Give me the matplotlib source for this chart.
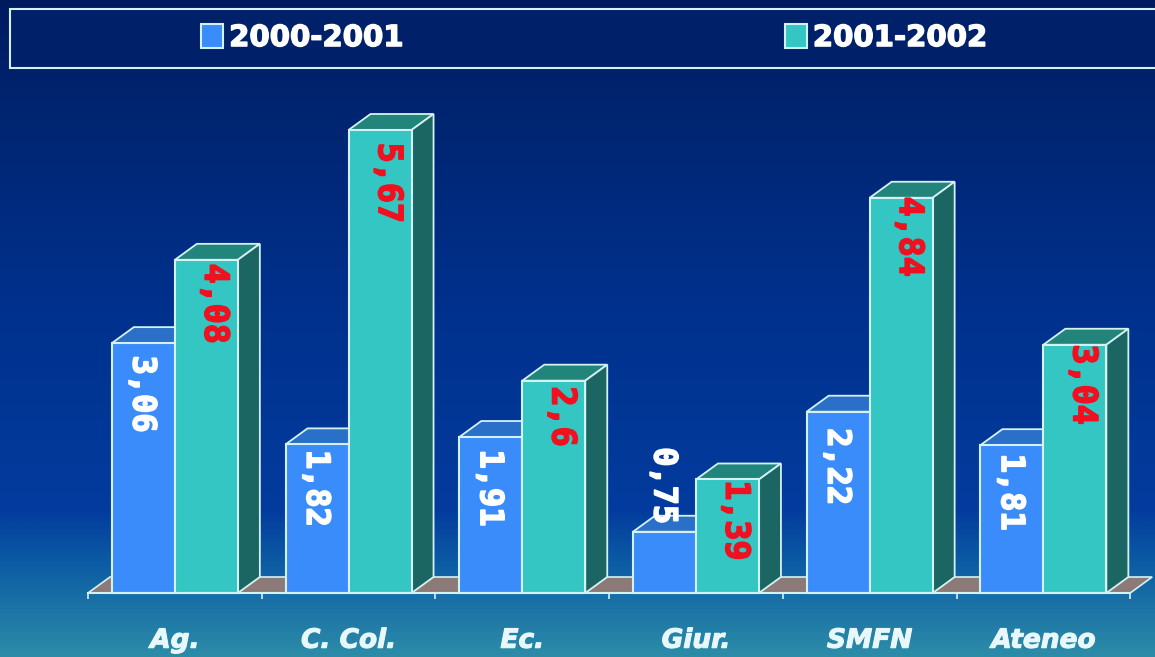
import numpy as np
import matplotlib
matplotlib.use("Agg")
from matplotlib import pyplot as plt
from matplotlib import patheffects as pe
from matplotlib.colors import LinearSegmentedColormap
from matplotlib.patches import Polygon, Rectangle

categories = ["Ag.", "C. Col.", "Ec.", "Giur.", "SMFN", "Ateneo"]
series_names = ["2000-2001", "2001-2002"]
values_a = [3.06, 1.82, 1.91, 0.75, 2.22, 1.81]
values_b = [4.08, 5.67, 2.6, 1.39, 4.84, 3.04]

W, H = 1155, 657
BASE_PX = 593       # y pixel of value 0
UNIT_Y = 81.66      # pixels per value unit
UNIT_X = 173.7      # pixels per category
LEFT_PX = 88        # x pixel of left end of axis
DX = 22 / UNIT_X    # 3d depth in data units
DY = 16 / UNIT_Y
BAR_W = 63 / UNIT_X

# distance from bar top to centre of value label, in pixels
label_off_a = [51, 44, 51, -46, 55, 47]
label_off_b = [44, 53, 36, 41, 39, 40]

EDGE = "#d4f2f2"
BLUE = "#3a8cfa"
BLUE_TOP = "#2a70c8"
BLUE_SIDE = "#1f55a0"
TEAL = "#33c6c2"
TEAL_TOP = "#22857c"
TEAL_SIDE = "#1b6663"
FLOOR = "#8c7a78"


def fmt(v):
    return str(v).replace(".", ",")


def fat(color, w=1.2):
    return [pe.withStroke(linewidth=w, foreground=color)]


def draw_box(ax, x0, x1, v, top, side, z):
    # top and side faces, front face comes from ax.bar
    ax.add_patch(Polygon([(x0, v), (x0 + DX, v + DY), (x1 + DX, v + DY), (x1, v)],
                         fc=top, ec=EDGE, lw=1.3, zorder=z))
    ax.add_patch(Polygon([(x1, 0), (x1 + DX, DY), (x1 + DX, v + DY), (x1, v)],
                         fc=side, ec=EDGE, lw=1.3, zorder=z))


fig = plt.figure(figsize=(W / 100, H / 100), dpi=100)

# background gradient
bg = fig.add_axes([0, 0, 1, 1], zorder=0)
cmap = LinearSegmentedColormap.from_list("bg", [
    (0.0, "#001a60"), (0.15, "#00246e"), (0.45, "#00308c"),
    (0.78, "#033c9e"), (0.86, "#0c5ca4"), (1.0, "#2c8ca8")])
bg.imshow(np.linspace(0, 1, 400).reshape(-1, 1), cmap=cmap, aspect="auto", extent=[0, 1, 0, 1])
bg.axis("off")

# chart axes cover the whole figure so value 0 sits on the floor line
ax = fig.add_axes([0, 0, 1, 1], zorder=1)
ax.patch.set_alpha(0)
ax.set_xlim(-LEFT_PX / UNIT_X - 0.5, (W - LEFT_PX) / UNIT_X - 0.5)
ax.set_ylim(-(H - BASE_PX) / UNIT_Y, BASE_PX / UNIT_Y)

x = np.arange(len(categories))

# floor
ax.add_patch(Polygon([(-0.5, 0), (-0.5 + DX, DY), (5.5 + DX, DY), (5.5, 0)],
                     fc=FLOOR, ec=EDGE, lw=1.2, zorder=1))

bars_a = ax.bar(x - BAR_W / 2, values_a, BAR_W, color=BLUE, edgecolor=EDGE, lw=1.5, zorder=3.5)
for xi, v in zip(x, values_a):
    draw_box(ax, xi - BAR_W, xi, v, BLUE_TOP, BLUE_SIDE, 3)
bars_b = ax.bar(x + BAR_W / 2, values_b, BAR_W, color=TEAL, edgecolor=EDGE, lw=1.5, zorder=5)
for xi, v in zip(x, values_b):
    draw_box(ax, xi, xi + BAR_W, v, TEAL_TOP, TEAL_SIDE, 4)

# value labels, rotated like in the original slide
for xi, v, off in zip(x, values_a, label_off_a):
    ax.annotate(fmt(v), (xi - BAR_W / 2, v), xytext=(-1, -off * 0.72), textcoords="offset points",
                rotation=270, color="white", fontsize=23, fontweight="bold",
                family="DejaVu Sans Mono", ha="center", va="center", zorder=8,
                path_effects=fat("white"))
for xi, v, off in zip(x, values_b, label_off_b):
    ax.annotate(fmt(v), (xi + BAR_W / 2, v), xytext=(6, -off * 0.72), textcoords="offset points",
                rotation=270, color="#f01020", fontsize=24, fontweight="bold",
                family="DejaVu Sans Mono", ha="center", va="center", zorder=8,
                path_effects=fat("#f01020"))

# axis: ticks between groups, names in the middle
for s in ["top", "left", "right"]:
    ax.spines[s].set_visible(False)
ax.spines["bottom"].set_position(("data", 0))
ax.spines["bottom"].set_bounds(-0.5, 5.5)
ax.spines["bottom"].set_color(EDGE)
ax.spines["bottom"].set_linewidth(1.5)
ax.spines["bottom"].set_zorder(6)
ax.set_yticks([])
ax.set_xticks(np.arange(-0.5, 6, 1))
ax.set_xticklabels([])
ax.tick_params(axis="x", which="major", length=4, width=1.2, color=EDGE, direction="out")
ax.set_xticks(x, minor=True)
ax.set_xticklabels(categories, minor=True, color="#e8f8fa", fontsize=19, fontweight="bold",
                   style="italic", path_effects=fat("#e8f8fa", 0.8))
ax.tick_params(axis="x", which="minor", length=0, pad=25)

# legend strip
ax.add_patch(Rectangle((10, H - 68), W + 10, 59, transform=None, fc="#00206a", ec=EDGE, lw=1.5, zorder=2))
leg = ax.legend([bars_a, bars_b], series_names, loc="center", bbox_to_anchor=(594 / W, 1 - 38 / H),
                ncols=2, frameon=False, prop={"size": 21, "weight": "bold"}, labelcolor="white",
                columnspacing=13.1, handlelength=0.75, handleheight=0.9, handletextpad=0.2)
for t in leg.get_texts():
    t.set_path_effects(fat("white", 1.0))

fig.savefig("out.png", dpi=100)
